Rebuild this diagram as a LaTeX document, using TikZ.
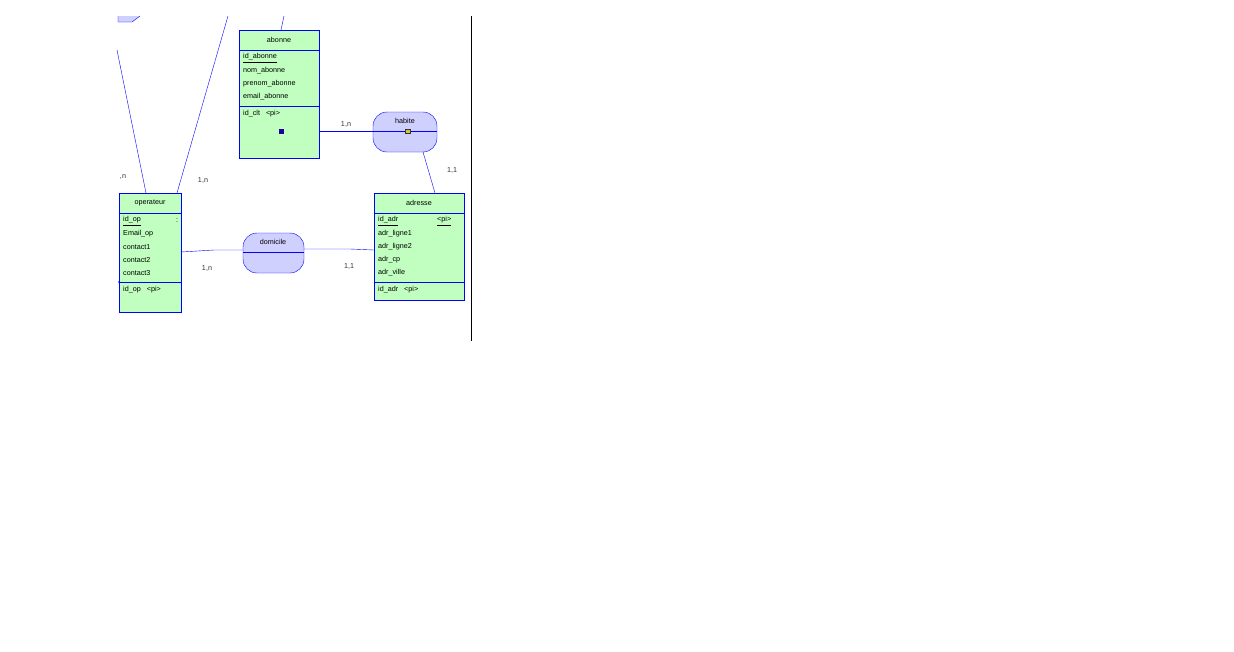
\documentclass[tikz,border=0pt]{standalone}
\usepackage{fontspec}
\setmainfont{Liberation Sans}
\begin{document}
\begin{tikzpicture}[x=1pt,y=-1pt,
  ent/.style={draw=blue,fill=entg},
  rel/.style={draw=blue,fill=relb,rounded corners=14pt},
  ln/.style={draw=blue},
  txt/.style={font=\fontsize{7.2}{8}\selectfont,inner sep=0pt,anchor=west},
  ctr/.style={font=\fontsize{7.2}{8}\selectfont,inner sep=0pt},
  card/.style={font=\fontsize{7.2}{8}\selectfont,inner sep=0pt,text=black!80}]
\definecolor{entg}{RGB}{192,255,192}
\definecolor{relb}{RGB}{208,208,255}
\useasboundingbox (0,0) rectangle (1234,651);
\fill[white] (0,0) rectangle (1234,651);
% partial shape top-left
\filldraw[draw=blue,fill=relb] (118,16) -- (118,22) -- (132,22) -- (140,16);
% vertical divider
\draw (471,16) -- (471,341);
% abonne
\draw[ent] (239,30) rectangle (319,158);
\draw[blue] (239,50) -- (319,50) (239,106) -- (319,106);
\node[ctr] (abt) at (279,40) {abonne};
\node[txt] (a1) at (243,58) {\underline{id\_abonne}};
\node[txt] at (243,71) {nom\_abonne};
\begin{scope}\clip (240,60) rectangle (318,100);
\node[txt] at (243,84) {prenom\_abonne};\end{scope}
\node[txt] at (243,97) {email\_abonne};
\node[txt] at (243,114) {id\_clt\hspace{6pt}<pi>};
\fill[black!70!red!40!blue] (278.5,128.5) rectangle (283.5,133.5);
\coordinate (abR) at (319,131);
\coordinate (abT) at (281,30);
% habite
\draw[rel] (373,112) rectangle (437,152);
\draw[blue] (373,131) -- (437,131);
\node[ctr] (hab) at (405,121) {habite};
\filldraw[fill=yellow!80!black,draw=black!80] (405.5,129.5) rectangle (410.5,133);
\coordinate (haL) at (373,131);
\coordinate (haB) at (423,152);
% operateur
\draw[ent] (119,193) rectangle (181,312);
\draw[blue] (119,213) -- (181,213) (119,282) -- (181,282);
\node[ctr] (opt) at (150,203) {operateur};
\node[txt] at (123,221) {\underline{id\_op}};
\node[txt] at (176,221) {:};
\node[txt] at (123,234) {Email\_op};
\node[txt] at (123,247) {contact1};
\node[txt] at (123,260) {contact2};
\node[txt] at (123,273) {contact3};
\node[txt] at (123,290) {id\_op\hspace{6pt}<pi>};
\draw[blue] (118,281) -- (119,283);
\coordinate (opR) at (181,252);
\coordinate (opT1) at (146,193);
\coordinate (opT2) at (177,193);
% adresse
\draw[ent] (374,193) rectangle (464,300);
\draw[blue] (374,213) -- (464,213) (374,282) -- (464,282);
\node[ctr] (adt) at (419,203) {adresse};
\node[txt] at (378,221) {\underline{id\_adr}};
\node[txt] at (437,221) {\underline{<pi>}};
\node[txt] at (378,234) {adr\_ligne1};
\node[txt] at (378,247) {adr\_ligne2};
\node[txt] at (378,260) {adr\_cp};
\node[txt] at (378,273) {adr\_ville};
\node[txt] at (378,290) {id\_adr\hspace{6pt}<pi>};
\coordinate (adT) at (435,193);
\coordinate (adL) at (374,250);
% domicile
\draw[rel] (243,233) rectangle (304,273);
\draw[blue] (243,252) -- (304,252);
\node[ctr] (dom) at (273,242) {domicile};
\coordinate (doL) at (243,250);
\coordinate (doR) at (304,249);
% connectors
\draw[ln] (abR) -- (haL);
\draw[ln] (haB) -- (adT);
\draw[ln] (opR) -- (214,250) -- (doL);
\draw[ln] (doR) -- (350,249) -- (adL);
\draw[ln] (opT1) -- (117,50);
\draw[ln] (opT2) -- (228,16);
\draw[ln] (abT) -- (284,16);
% cardinalities
\node[card] at (346,124) {1,n};
\node[card] at (452,170) {1,1};
\node[card] at (123,177) {,n};
\node[card] at (203,180) {1,n};
\node[card] at (207,268) {1,n};
\node[card] at (349,266) {1,1};
\end{tikzpicture}
\end{document}
